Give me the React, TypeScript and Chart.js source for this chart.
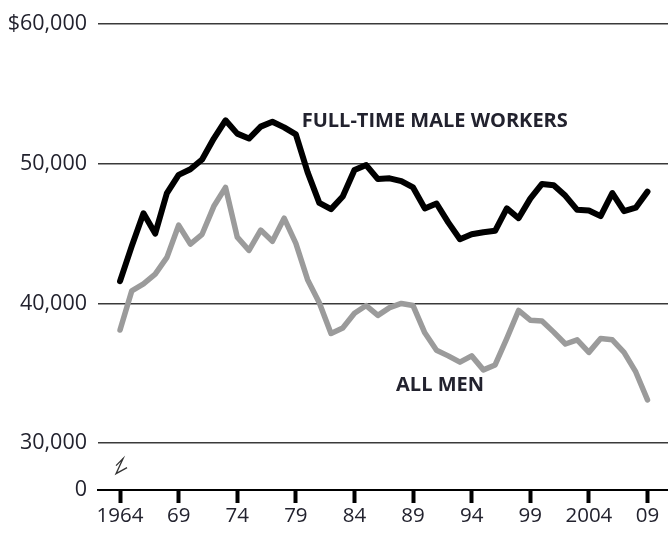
import React, { useEffect, useRef } from "react";
import { Chart, registerables } from "chart.js";

Chart.register(...registerables);

const years = [
  1964, 1965, 1966, 1967, 1968, 1969, 1970, 1971, 1972, 1973, 1974, 1975, 1976, 1977, 1978, 1979,
  1980, 1981, 1982, 1983, 1984, 1985, 1986, 1987, 1988, 1989, 1990, 1991, 1992, 1993, 1994, 1995,
  1996, 1997, 1998, 1999, 2000, 2001, 2002, 2003, 2004, 2005, 2006, 2007, 2008, 2009,
];

const fullTimeMale = [
  41600, 44100, 46450, 45000, 47900, 49200, 49600, 50300, 51800, 53100, 52150, 51800, 52650, 53000,
  52600, 52100, 49400, 47200, 46750, 47650, 49550, 49900, 48900, 48950, 48750, 48300, 46800, 47150,
  45800, 44600, 44950, 45100, 45200, 46800, 46100, 47500, 48550, 48450, 47700, 46700, 46650, 46250,
  47900, 46600, 46850, 48000,
];

const allMen = [
  38100, 40900, 41400, 42100, 43300, 45600, 44250, 44950, 46950, 48300, 44750, 43800, 45250, 44450,
  46100, 44300, 41700, 40050, 37850, 38250, 39300, 39850, 39150, 39700, 40000, 39850, 37900, 36650,
  36250, 35800, 36250, 35250, 35600, 37500, 39500, 38800, 38750, 37950, 37100, 37400, 36500, 37500,
  37400, 36500, 35100, 33100,
];

const xTickValues = [1964, 1969, 1974, 1979, 1984, 1989, 1994, 1999, 2004, 2009];
const xTickLabels = ["1964", "69", "74", "79", "84", "89", "94", "99", "2004", "09"];

const yTickValues = [0, 30000, 40000, 50000, 60000];
const yTickLabels = ["0", "30,000", "40,000", "50,000", "$60,000"];

const seriesNames = ["FULL-TIME MALE WORKERS", "ALL MEN"];

// broken axis: the "0" baseline is drawn just below 30,000
const Y_BASE = 26655;
const Y_MAX = 60000;
const X_MIN = 1962.12;
const X_MAX = 2010.75;

const TEXT = "#22222e";
const FONT = "'Open Sans', 'Noto Sans', sans-serif";

const mapY = (v: number) => (v === 0 ? Y_BASE : v);

export default function App() {
  const ref = useRef<HTMLCanvasElement | null>(null);

  useEffect(() => {
    document.body.style.margin = "0";
    const canvas = ref.current;
    if (!canvas) return;

    const overlay = {
      id: "overlay",
      afterDatasetsDraw(chart: any) {
        const { ctx, scales } = chart;
        const xs = scales.x;
        const ys = scales.y;
        ctx.save();
        ctx.fillStyle = TEXT;
        ctx.font = `bold 20px ${FONT}`;
        ctx.textBaseline = "middle";
        ctx.textAlign = "left";
        ctx.fillText(seriesNames[0], xs.getPixelForValue(1979.5), ys.getPixelForValue(53050));
        ctx.fillText(seriesNames[1], xs.getPixelForValue(1987.55), ys.getPixelForValue(34150));

        // axis break mark
        const bx = xs.getPixelForValue(1964) + 1;
        const by = (ys.getPixelForValue(30000) + ys.getPixelForValue(Y_BASE)) / 2;
        ctx.strokeStyle = "#333";
        ctx.lineWidth = 1.3;
        ctx.beginPath();
        ctx.moveTo(bx - 5, by - 1);
        ctx.lineTo(bx + 2, by - 8);
        ctx.lineTo(bx - 5, by + 7);
        ctx.lineTo(bx + 6, by + 1);
        ctx.stroke();
        ctx.restore();
      },
    };

    const chart = new Chart(canvas, {
      type: "line",
      data: {
        datasets: [
          {
            label: seriesNames[1],
            data: years.map((yr, i) => ({ x: yr, y: allMen[i] })),
            borderColor: "#9b9b9b",
            borderWidth: 5.5,
            pointRadius: 0,
            tension: 0,
            borderJoinStyle: "round",
            borderCapStyle: "round",
          },
          {
            label: seriesNames[0],
            data: years.map((yr, i) => ({ x: yr, y: fullTimeMale[i] })),
            borderColor: "#000000",
            borderWidth: 6,
            pointRadius: 0,
            tension: 0,
            borderJoinStyle: "round",
            borderCapStyle: "round",
          },
        ],
      },
      options: {
        responsive: false,
        animation: false,
        events: [],
        layout: { padding: { top: 22, right: 0, bottom: 0, left: 0 } },
        plugins: {
          legend: { display: false },
          tooltip: { enabled: false },
          title: { display: false },
        },
        scales: {
          x: {
            type: "linear",
            min: X_MIN,
            max: X_MAX,
            afterBuildTicks: (scale: any) => {
              scale.ticks = xTickValues.map((v) => ({ value: v }));
            },
            afterFit: (scale: any) => {
              scale.height = 50;
            },
            ticks: {
              autoSkip: false,
              maxRotation: 0,
              padding: 1,
              color: TEXT,
              font: { family: FONT, size: 20.5 },
              callback: (v: any) => {
                const i = xTickValues.indexOf(Number(v));
                return i >= 0 ? xTickLabels[i] : "";
              },
            },
            grid: {
              drawOnChartArea: false,
              drawTicks: true,
              tickLength: 13,
              tickWidth: 4,
              tickColor: "#000",
            },
            border: { display: true, color: "#000", width: 2 },
          },
          y: {
            type: "linear",
            min: Y_BASE,
            max: Y_MAX,
            afterBuildTicks: (scale: any) => {
              scale.ticks = yTickValues.map((v) => ({ value: mapY(v) }));
            },
            afterFit: (scale: any) => {
              scale.width = 98;
            },
            ticks: {
              autoSkip: false,
              padding: 11,
              color: TEXT,
              font: { family: FONT, size: 21.5 },
              callback: (v: any) => {
                const i = yTickValues.findIndex((t) => mapY(t) === Number(v));
                return i >= 0 ? yTickLabels[i] : "";
              },
            },
            grid: {
              drawTicks: false,
              lineWidth: 1.5,
              color: (c: any) => (c.tick && c.tick.value === Y_BASE ? "rgba(0,0,0,0)" : "#3a3a3a"),
            },
            border: { display: false },
          },
        },
      },
      plugins: [overlay],
    });

    return () => chart.destroy();
  }, []);

  return (
    <div style={{ width: 668, height: 540 }}>
      <canvas ref={ref} width={668} height={540} style={{ width: 668, height: 540, display: "block" }} />
    </div>
  );
}
